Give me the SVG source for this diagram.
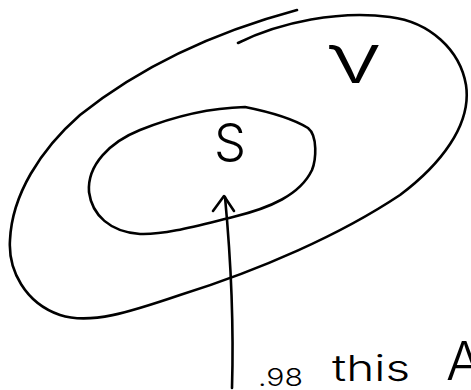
<svg xmlns="http://www.w3.org/2000/svg" width="471" height="390" viewBox="0 0 471 390">
<style>
.ink{fill:none;stroke:#000;stroke-width:2.6;stroke-linecap:round;stroke-linejoin:round}
.lbl{fill:#000;font-family:Inter,"Liberation Sans","DejaVu Sans",sans-serif;font-weight:300}
</style>
<rect width="471" height="390" fill="#fff"/>
<g id="outer-set">
<path class="ink" d="M238,43 C280,22 340,10 390,17 C430,22 460,50 466,85 C472,125 440,165 400,195 C340,235 260,270 180,295 C130,312 90,325 60,315 C25,303 8,270 10,240 C12,195 40,150 80,115 C130,75 200,36 297,10"/>
<text class="lbl" x="326" y="83" font-size="70" textLength="56" lengthAdjust="spacingAndGlyphs">ν</text>
</g>
<g id="inner-set">
<path class="ink" d="M245,107 C270,112 295,120 308,128 C318,136 316,160 312,170 C300,195 270,208 233,217 C200,225 165,235 140,234 C110,232 92,215 89,192 C87,165 110,142 140,130 C170,118 205,108 245,107 Z"/>
<text class="lbl" x="214" y="161" font-size="52" textLength="32" lengthAdjust="spacingAndGlyphs">S</text>
</g>
<g id="connectors">
<path class="ink" d="M232,388 C234,320 230,250 225,197"/>
<path class="ink" d="M213,211 L224,196 L234,211"/>
</g>
<g id="note">
<text class="lbl" x="258" y="386" font-size="24" textLength="45" lengthAdjust="spacingAndGlyphs">.98</text>
<text class="lbl" x="332" y="381" font-size="36" textLength="78" lengthAdjust="spacingAndGlyphs">this</text>
<text class="lbl" x="446" y="380" font-size="54">A</text>
</g>
</svg>
